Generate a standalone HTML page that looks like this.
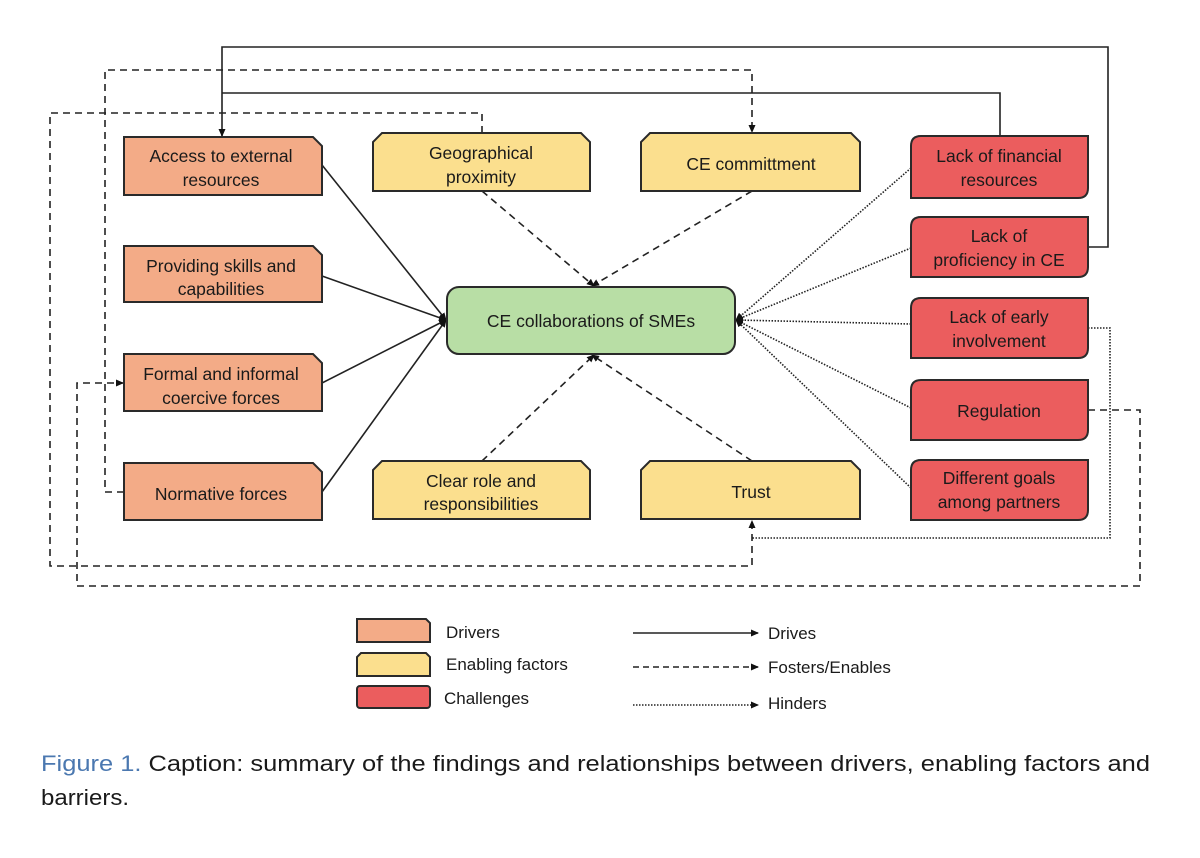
<!DOCTYPE html>
<html><head><meta charset="utf-8"><style>
html,body{margin:0;padding:0;background:#fff}
svg{display:block}
text{font-family:"Liberation Sans",sans-serif;fill:#1a1a1a}
</style></head><body>
<svg width="1200" height="858" viewBox="0 0 1200 858" xmlns="http://www.w3.org/2000/svg">
<defs>
<marker id="ah" markerWidth="8" markerHeight="8" refX="7" refY="4" orient="auto" markerUnits="userSpaceOnUse"><path d="M0,0.5 L8,4 L0,7.5 z" fill="#111"/></marker>
</defs>
<g fill="none" stroke="#222" stroke-width="1.6">
<!-- solid routed -->
<polyline points="1000,136 1000,93 222,93"/>
<polyline points="1088,247 1108,247 1108,47 222,47 222,136" marker-end="url(#ah)"/>
<!-- dashed routed -->
<g stroke-dasharray="7,5">
<polyline points="124,492 105,492 105,70 752,70 752,132" marker-end="url(#ah)"/>
<polyline points="482,133 482,113 50,113 50,566 752,566 752,521" marker-end="url(#ah)"/>
<polyline points="1088,410 1140,410 1140,586 77,586 77,383 123,383" marker-end="url(#ah)"/>
<line x1="482" y1="191" x2="594" y2="286" marker-end="url(#ah)"/>
<line x1="752" y1="191" x2="592" y2="286" marker-end="url(#ah)"/>
<line x1="482" y1="461" x2="594" y2="355" marker-end="url(#ah)"/>
<line x1="752" y1="461" x2="592" y2="355" marker-end="url(#ah)"/>
</g>
<!-- dotted -->
<g stroke-dasharray="1.5,1.5">
<polyline points="1088,328 1110,328 1110,538 752,538"/>
<line x1="911" y1="168" x2="736" y2="320" marker-end="url(#ah)"/>
<line x1="911" y1="248" x2="736" y2="320" marker-end="url(#ah)"/>
<line x1="911" y1="324" x2="736" y2="320" marker-end="url(#ah)"/>
<line x1="911" y1="408" x2="736" y2="320" marker-end="url(#ah)"/>
<line x1="911" y1="488" x2="736" y2="320" marker-end="url(#ah)"/>
</g>
<!-- solid to center -->
<line x1="322" y1="165" x2="446" y2="320" marker-end="url(#ah)"/>
<line x1="322" y1="276" x2="446" y2="320" marker-end="url(#ah)"/>
<line x1="322" y1="383" x2="446" y2="320" marker-end="url(#ah)"/>
<line x1="322" y1="492" x2="446" y2="320" marker-end="url(#ah)"/>
</g>

<g stroke="#2a2a2a" stroke-width="2">
<!-- orange: top-right chamfer -->
<g fill="#f3ab87">
<path d="M124,137 H313 L322,146 V195 H124 Z"/>
<path d="M124,246 H313 L322,255 V302 H124 Z"/>
<path d="M124,354 H313 L322,363 V411 H124 Z"/>
<path d="M124,463 H313 L322,472 V520 H124 Z"/>
</g>
<!-- yellow: top chamfers -->
<g fill="#fbdf8e">
<path d="M382,133 H581 L590,142 V191 H373 V142 Z"/>
<path d="M650,133 H851 L860,142 V191 H641 V142 Z"/>
<path d="M382,461 H581 L590,470 V519 H373 V470 Z"/>
<path d="M650,461 H851 L860,470 V519 H641 V470 Z"/>
</g>
<!-- red: rounded TL & BR -->
<g fill="#eb5d5e">
<path d="M921,136 H1088 V188 Q1088,198 1078,198 H911 V146 Q911,136 921,136 Z"/>
<path d="M921,217 H1088 V267 Q1088,277 1078,277 H911 V227 Q911,217 921,217 Z"/>
<path d="M921,298 H1088 V348 Q1088,358 1078,358 H911 V308 Q911,298 921,298 Z"/>
<path d="M921,380 H1088 V430 Q1088,440 1078,440 H911 V390 Q911,380 921,380 Z"/>
<path d="M921,460 H1088 V510 Q1088,520 1078,520 H911 V470 Q911,460 921,460 Z"/>
</g>
<rect x="447" y="287" width="288" height="67" rx="12" fill="#b8dea5"/>
<!-- legend -->
<path d="M357,619 H426 L430,623 V642 H357 Z" fill="#f3ab87"/>
<path d="M361,653 H426 L430,657 V676 H357 V657 Z" fill="#fbdf8e"/>
<rect x="357" y="686" width="73" height="22" rx="3" fill="#eb5d5e"/>
</g>
<g font-size="17.5" text-anchor="middle">
<text x="221" y="162">Access to external</text><text x="221" y="186">resources</text>
<text x="221" y="272">Providing skills and</text><text x="221" y="295">capabilities</text>
<text x="221" y="380">Formal and informal</text><text x="221" y="404">coercive forces</text>
<text x="221" y="500">Normative forces</text>
<text x="481" y="159">Geographical</text><text x="481" y="183">proximity</text>
<text x="751" y="170">CE committment</text>
<text x="481" y="487">Clear role and</text><text x="481" y="510">responsibilities</text>
<text x="751" y="498">Trust</text>
<text x="999" y="162">Lack of financial</text><text x="999" y="186">resources</text>
<text x="999" y="242">Lack of</text><text x="999" y="266">proficiency in CE</text>
<text x="999" y="323">Lack of early</text><text x="999" y="347">involvement</text>
<text x="999" y="417">Regulation</text>
<text x="999" y="484">Different goals</text><text x="999" y="508">among partners</text>
<text x="591" y="327">CE collaborations of SMEs</text>
</g>
<g font-size="17">
<text x="446" y="638">Drivers</text>
<text x="446" y="670">Enabling factors</text>
<text x="444" y="704">Challenges</text>
<text x="768" y="639">Drives</text>
<text x="768" y="673">Fosters/Enables</text>
<text x="768" y="709">Hinders</text>
</g>
<g stroke="#222" stroke-width="1.6" fill="none">
<line x1="633" y1="633" x2="758" y2="633" marker-end="url(#ah)"/>
<line x1="633" y1="667" x2="758" y2="667" stroke-dasharray="6,4" marker-end="url(#ah)"/>
<line x1="633" y1="705" x2="758" y2="705" stroke-dasharray="1.5,1.5" marker-end="url(#ah)"/>
</g>
<text x="41" y="771" font-size="22" textLength="1109" lengthAdjust="spacingAndGlyphs"><tspan fill="#4b78b0">Figure 1.</tspan> Caption: summary of the findings and relationships between drivers, enabling factors and</text>
<text x="41" y="805" font-size="22" textLength="88" lengthAdjust="spacingAndGlyphs">barriers.</text>
</svg>
</body></html>
